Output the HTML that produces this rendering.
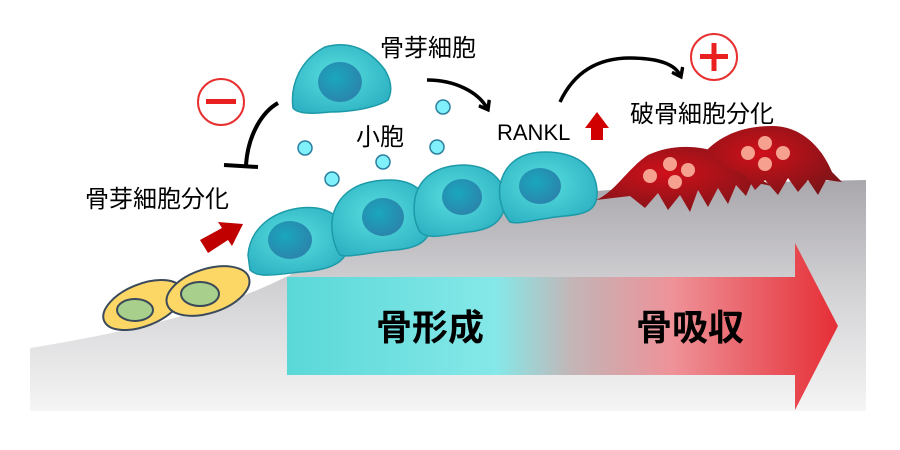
<!DOCTYPE html>
<html><head><meta charset="utf-8"><style>
html,body{margin:0;padding:0;background:#fff;}
svg{display:block}
text{font-family:"Liberation Sans","Noto Sans CJK JP",sans-serif;}
</style></head><body>
<svg width="900" height="450" viewBox="0 0 900 450" xmlns="http://www.w3.org/2000/svg">
<defs>
<linearGradient id="bone" x1="0" y1="0" x2="0" y2="1">
<stop offset="0" stop-color="#a9a7ac"/><stop offset="0.5" stop-color="#d4d3d6"/><stop offset="1" stop-color="#f5f5f5"/></linearGradient>
<linearGradient id="arr" x1="287" y1="0" x2="838" y2="0" gradientUnits="userSpaceOnUse">
<stop offset="0" stop-color="#5ad8d8"/><stop offset="0.38" stop-color="#86e8e8"/><stop offset="0.52" stop-color="#c4b4b6"/><stop offset="0.7" stop-color="#ee9298"/><stop offset="1" stop-color="#e62e36"/></linearGradient>
<radialGradient id="cell" cx="0.45" cy="0.45" r="0.6"><stop offset="0" stop-color="#58dede"/><stop offset="1" stop-color="#2fb3c4"/></radialGradient>
<radialGradient id="nuc" cx="0.4" cy="0.4" r="0.6"><stop offset="0" stop-color="#1aa7be"/><stop offset="1" stop-color="#2a86ac"/></radialGradient>
<radialGradient id="oc" cx="0.4" cy="0.4" r="0.7"><stop offset="0" stop-color="#d0101a"/><stop offset="1" stop-color="#7a1418"/></radialGradient>
<marker id="ah" markerWidth="14" markerHeight="14" refX="7" refY="7" orient="auto" markerUnits="userSpaceOnUse"><path d="M1,1 L9,7 L1,13" fill="none" stroke="#000" stroke-width="3.5"/></marker>
</defs>
<path d="M30,348 C140,330 220,310 290,275 C330,245 420,215 520,200 C620,185 750,182 866,180 L866,411 L30,411 Z" fill="url(#bone)"/>
<path d="M287,277 L795,277 L795,243 L838,326 L795,410 L795,375 L287,375 Z" fill="url(#arr)"/>
<text x="430" y="340" font-size="36" font-weight="bold" text-anchor="middle">骨形成</text>
<text x="690" y="340" font-size="36" font-weight="bold" text-anchor="middle">骨吸収</text>
<g stroke="#3a4a5a" stroke-width="2">
<ellipse cx="143" cy="305" rx="42" ry="21" transform="rotate(-22 143 305)" fill="#fcd766"/>
<ellipse cx="135" cy="310" rx="18" ry="11" fill="#a8d08c"/>
<ellipse cx="208" cy="291" rx="43" ry="22" transform="rotate(-18 208 291)" fill="#fcd766"/>
<ellipse cx="200" cy="294" rx="19" ry="12" fill="#a8d08c"/>
</g>
<path d="M200,240 L222,228 L218,222 L243,224 L232,246 L228,240 L208,253 Z" fill="#c00000"/>
<g stroke="#1d9aa8" stroke-width="1.5">
<path d="M293,108 C290,85 300,60 325,47 C350,40 370,50 385,70 C392,82 392,92 388,100 C376,108 350,112 330,112 C312,114 298,114 293,108Z" fill="url(#cell)"/>
<ellipse cx="340" cy="82" rx="22" ry="20" fill="url(#nuc)" stroke="none"/>
<path d="M248,255 C250,230 270,212 300,208 C325,205 345,215 348,240 C350,260 335,270 300,272 C275,275 258,278 250,270Z" fill="url(#cell)"/>
<ellipse cx="290" cy="240" rx="22" ry="19" fill="url(#nuc)" stroke="none"/>
<path d="M333,215 C340,190 362,180 390,180 C415,180 432,195 432,218 C432,240 420,248 395,250 C370,252 350,258 340,255 C333,245 330,228 333,215Z" fill="url(#cell)"/>
<ellipse cx="383" cy="217" rx="21" ry="19" fill="url(#nuc)" stroke="none"/>
<path d="M415,198 C420,175 440,165 465,165 C490,166 505,180 505,200 C505,222 490,230 468,232 C445,235 428,240 420,232 C414,222 413,210 415,198Z" fill="url(#cell)"/>
<ellipse cx="462" cy="197" rx="20" ry="18" fill="url(#nuc)" stroke="none"/>
<path d="M500,185 C505,162 522,152 545,152 C575,152 595,165 597,190 C598,208 590,214 565,216 C540,218 520,225 510,222 C502,212 498,198 500,185Z" fill="url(#cell)"/>
<ellipse cx="540" cy="186" rx="21" ry="18" fill="url(#nuc)" stroke="none"/>
</g>
<path d="M596,200 C615,192 628,168 648,155 C680,140 722,146 748,170 C760,180 762,180 772,186 L752,182 L746,196 L736,185 L728,204 L718,188 L708,207 L698,190 L690,212 L680,195 L668,210 L658,193 L645,208 L630,196 Z" fill="url(#oc)"/>
<path d="M705,152 C720,136 742,126 772,126 C802,126 822,148 832,172 L842,182 L826,180 L818,195 L808,180 L798,192 L788,178 L778,195 L765,180 L755,190 L745,175 L730,168 Z" fill="url(#oc)"/>
<g fill="#f6a090"><circle cx="670" cy="164" r="7"/><circle cx="688" cy="170" r="7"/><circle cx="650" cy="176" r="7"/><circle cx="675" cy="182" r="7"/>
<circle cx="765" cy="143" r="7"/><circle cx="748" cy="153" r="7"/><circle cx="783" cy="153" r="7"/><circle cx="765" cy="164" r="7"/></g>
<g fill="#80f0fa" stroke="#2a7fa0" stroke-width="1.5">
<circle cx="305" cy="148" r="7"/><circle cx="332" cy="179" r="7"/><circle cx="383" cy="162" r="7"/><circle cx="437" cy="147" r="7"/><circle cx="443" cy="107" r="7"/></g>
<text x="380" y="56" font-size="24">骨芽細胞</text>
<text x="356" y="145" font-size="24">小胞</text>
<text x="85" y="207" font-size="24">骨芽細胞分化</text>
<text x="497" y="140" font-size="22">RANKL</text>
<path d="M591,140 L591,128 L585,128 L597,112 L609,128 L603,128 L603,140Z" fill="#d00000"/>
<text x="630" y="122" font-size="24">破骨細胞分化</text>
<circle cx="221" cy="102" r="23" fill="none" stroke="#e83030" stroke-width="2"/>
<rect x="206" y="99" width="30" height="5" fill="#e82020"/>
<circle cx="714" cy="57" r="23" fill="none" stroke="#e83030" stroke-width="2"/>
<rect x="700" y="54" width="28" height="5" fill="#e82020"/><rect x="711.5" y="43" width="5" height="28" fill="#e82020"/>
<path d="M278,103 C262,112 248,135 246,165" fill="none" stroke="#000" stroke-width="4"/>
<line x1="224" y1="165" x2="258" y2="167" stroke="#000" stroke-width="4"/>
<path d="M427,80 C455,80 478,92 487,108" fill="none" stroke="#000" stroke-width="3.5" marker-end="url(#ah)"/>
<path d="M560,102 C575,70 600,58 630,58 C660,58 675,65 680,75" fill="none" stroke="#000" stroke-width="3.5" marker-end="url(#ah)"/>
</svg>
</body></html>
